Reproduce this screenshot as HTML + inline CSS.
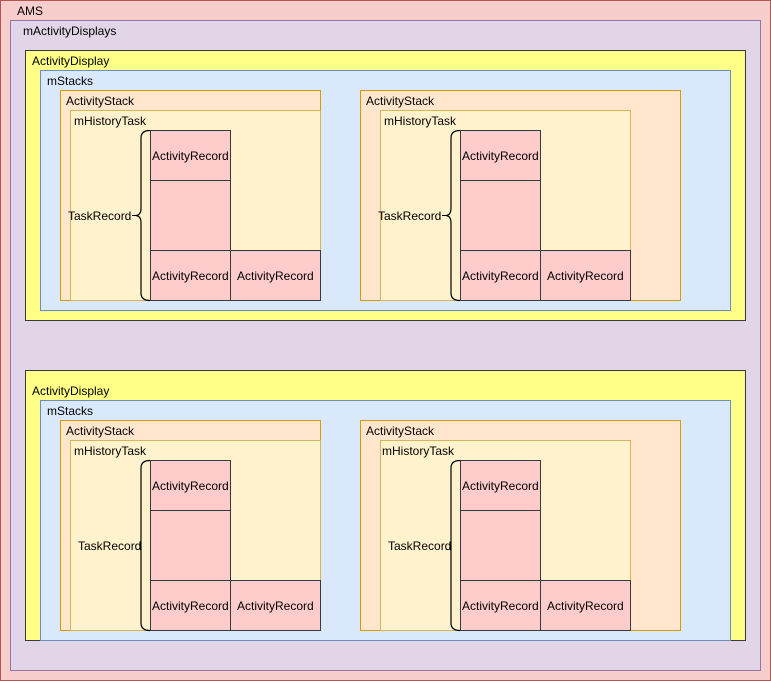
<!DOCTYPE html>
<html><head><meta charset="utf-8"><style>
html,body{margin:0;padding:0;background:#fff}
svg{display:block}
text{font-family:"Liberation Sans",Arial,sans-serif;font-size:12px;fill:#000}
.ar{fill:#ffcccc;stroke:#36393d;stroke-width:1}
.as{fill:#ffe6cc;stroke:#d79b00}
.ht{fill:#fff2cc;stroke:#d6b656}
</style></head><body>
<svg width="771" height="681" viewBox="0 0 771 681" xmlns="http://www.w3.org/2000/svg">
<rect x="0.5" y="0.5" width="770" height="680" fill="#f8cecc" stroke="#b85450"/>
<text x="17" y="15">AMS</text>
<rect x="10.5" y="20.5" width="750" height="650" fill="#e1d5e7" stroke="#9673a6"/>
<text x="23" y="35">mActivityDisplays</text>

<!-- top display -->
<rect x="25.5" y="50.5" width="720" height="270" fill="#ffff88" stroke="#36393d"/>
<text x="32" y="65">ActivityDisplay</text>
<rect x="40.5" y="70.5" width="690" height="240" fill="#dae8fc" stroke="#6c8ebf"/>
<text x="47" y="85">mStacks</text>

<g>
<rect class="as" x="60.5" y="90.5" width="260" height="210"/>
<text x="66" y="105">ActivityStack</text>
<rect class="ht" x="70.5" y="110.5" width="250" height="190"/>
<text x="74" y="125">mHistoryTask</text>
<rect class="ar" x="150.5" y="130.5" width="80" height="50"/><text x="152" y="160">ActivityRecord</text>
<rect class="ar" x="150.5" y="180.5" width="80" height="70"/>
<rect class="ar" x="150.5" y="250.5" width="80" height="50"/><text x="152" y="280">ActivityRecord</text>
<rect class="ar" x="230.5" y="250.5" width="90" height="50"/><text x="237" y="280">ActivityRecord</text>
<path d="M150,130.5 Q141,130.5 141,138 L141,208 Q141,215 136,215.5 Q141,216 141,223 L141,293 Q141,300.5 150,300.5" fill="none" stroke="#000" stroke-width="1.2"/>
<line x1="132" y1="215.5" x2="137" y2="215.5" stroke="#000"/>
<text x="68" y="220">TaskRecord</text>
</g>
<g transform="translate(300,0)">
<rect class="as" x="60.5" y="90.5" width="320" height="210"/>
<text x="66" y="105">ActivityStack</text>
<rect class="ht" x="80.5" y="110.5" width="250" height="190"/>
<text x="84" y="125">mHistoryTask</text>
<rect class="ar" x="160.5" y="130.5" width="80" height="50"/><text x="162" y="160">ActivityRecord</text>
<rect class="ar" x="160.5" y="180.5" width="80" height="70"/>
<rect class="ar" x="160.5" y="250.5" width="80" height="50"/><text x="162" y="280">ActivityRecord</text>
<rect class="ar" x="240.5" y="250.5" width="90" height="50"/><text x="247" y="280">ActivityRecord</text>
<path d="M160,130.5 Q151,130.5 151,138 L151,208 Q151,215 146,215.5 Q151,216 151,223 L151,293 Q151,300.5 160,300.5" fill="none" stroke="#000" stroke-width="1.2"/>
<line x1="142" y1="215.5" x2="147" y2="215.5" stroke="#000"/>
<text x="78" y="220">TaskRecord</text>
</g>

<!-- bottom display -->
<rect x="25.5" y="370.5" width="720" height="270" fill="#ffff88" stroke="#36393d"/>
<text x="32" y="395">ActivityDisplay</text>
<rect x="40.5" y="400.5" width="690" height="240" fill="#dae8fc" stroke="#6c8ebf"/>
<text x="47" y="415">mStacks</text>

<g>
<rect class="as" x="60.5" y="420.5" width="260" height="210"/>
<text x="66" y="435">ActivityStack</text>
<rect class="ht" x="70.5" y="440.5" width="250" height="190"/>
<text x="74" y="455">mHistoryTask</text>
<rect class="ar" x="150.5" y="460.5" width="80" height="50"/><text x="152" y="490">ActivityRecord</text>
<rect class="ar" x="150.5" y="510.5" width="80" height="70"/>
<rect class="ar" x="150.5" y="580.5" width="80" height="50"/><text x="152" y="610">ActivityRecord</text>
<rect class="ar" x="230.5" y="580.5" width="90" height="50"/><text x="237" y="610">ActivityRecord</text>
<text x="78" y="550">TaskRecord</text>
<path d="M150,460.5 Q141,460.5 141,468 L141,623 Q141,630.5 150,630.5" fill="none" stroke="#000" stroke-width="1.2"/>
</g>
<g transform="translate(300,0)">
<rect class="as" x="60.5" y="420.5" width="320" height="210"/>
<text x="66" y="435">ActivityStack</text>
<rect class="ht" x="80.5" y="440.5" width="250" height="190"/>
<text x="82" y="455">mHistoryTask</text>
<rect class="ar" x="160.5" y="460.5" width="80" height="50"/><text x="162" y="490">ActivityRecord</text>
<rect class="ar" x="160.5" y="510.5" width="80" height="70"/>
<rect class="ar" x="160.5" y="580.5" width="80" height="50"/><text x="162" y="610">ActivityRecord</text>
<rect class="ar" x="240.5" y="580.5" width="90" height="50"/><text x="247" y="610">ActivityRecord</text>
<text x="88" y="550">TaskRecord</text>
<path d="M160,460.5 Q151,460.5 151,468 L151,623 Q151,630.5 160,630.5" fill="none" stroke="#000" stroke-width="1.2"/>
</g>
</svg>
</body></html>
